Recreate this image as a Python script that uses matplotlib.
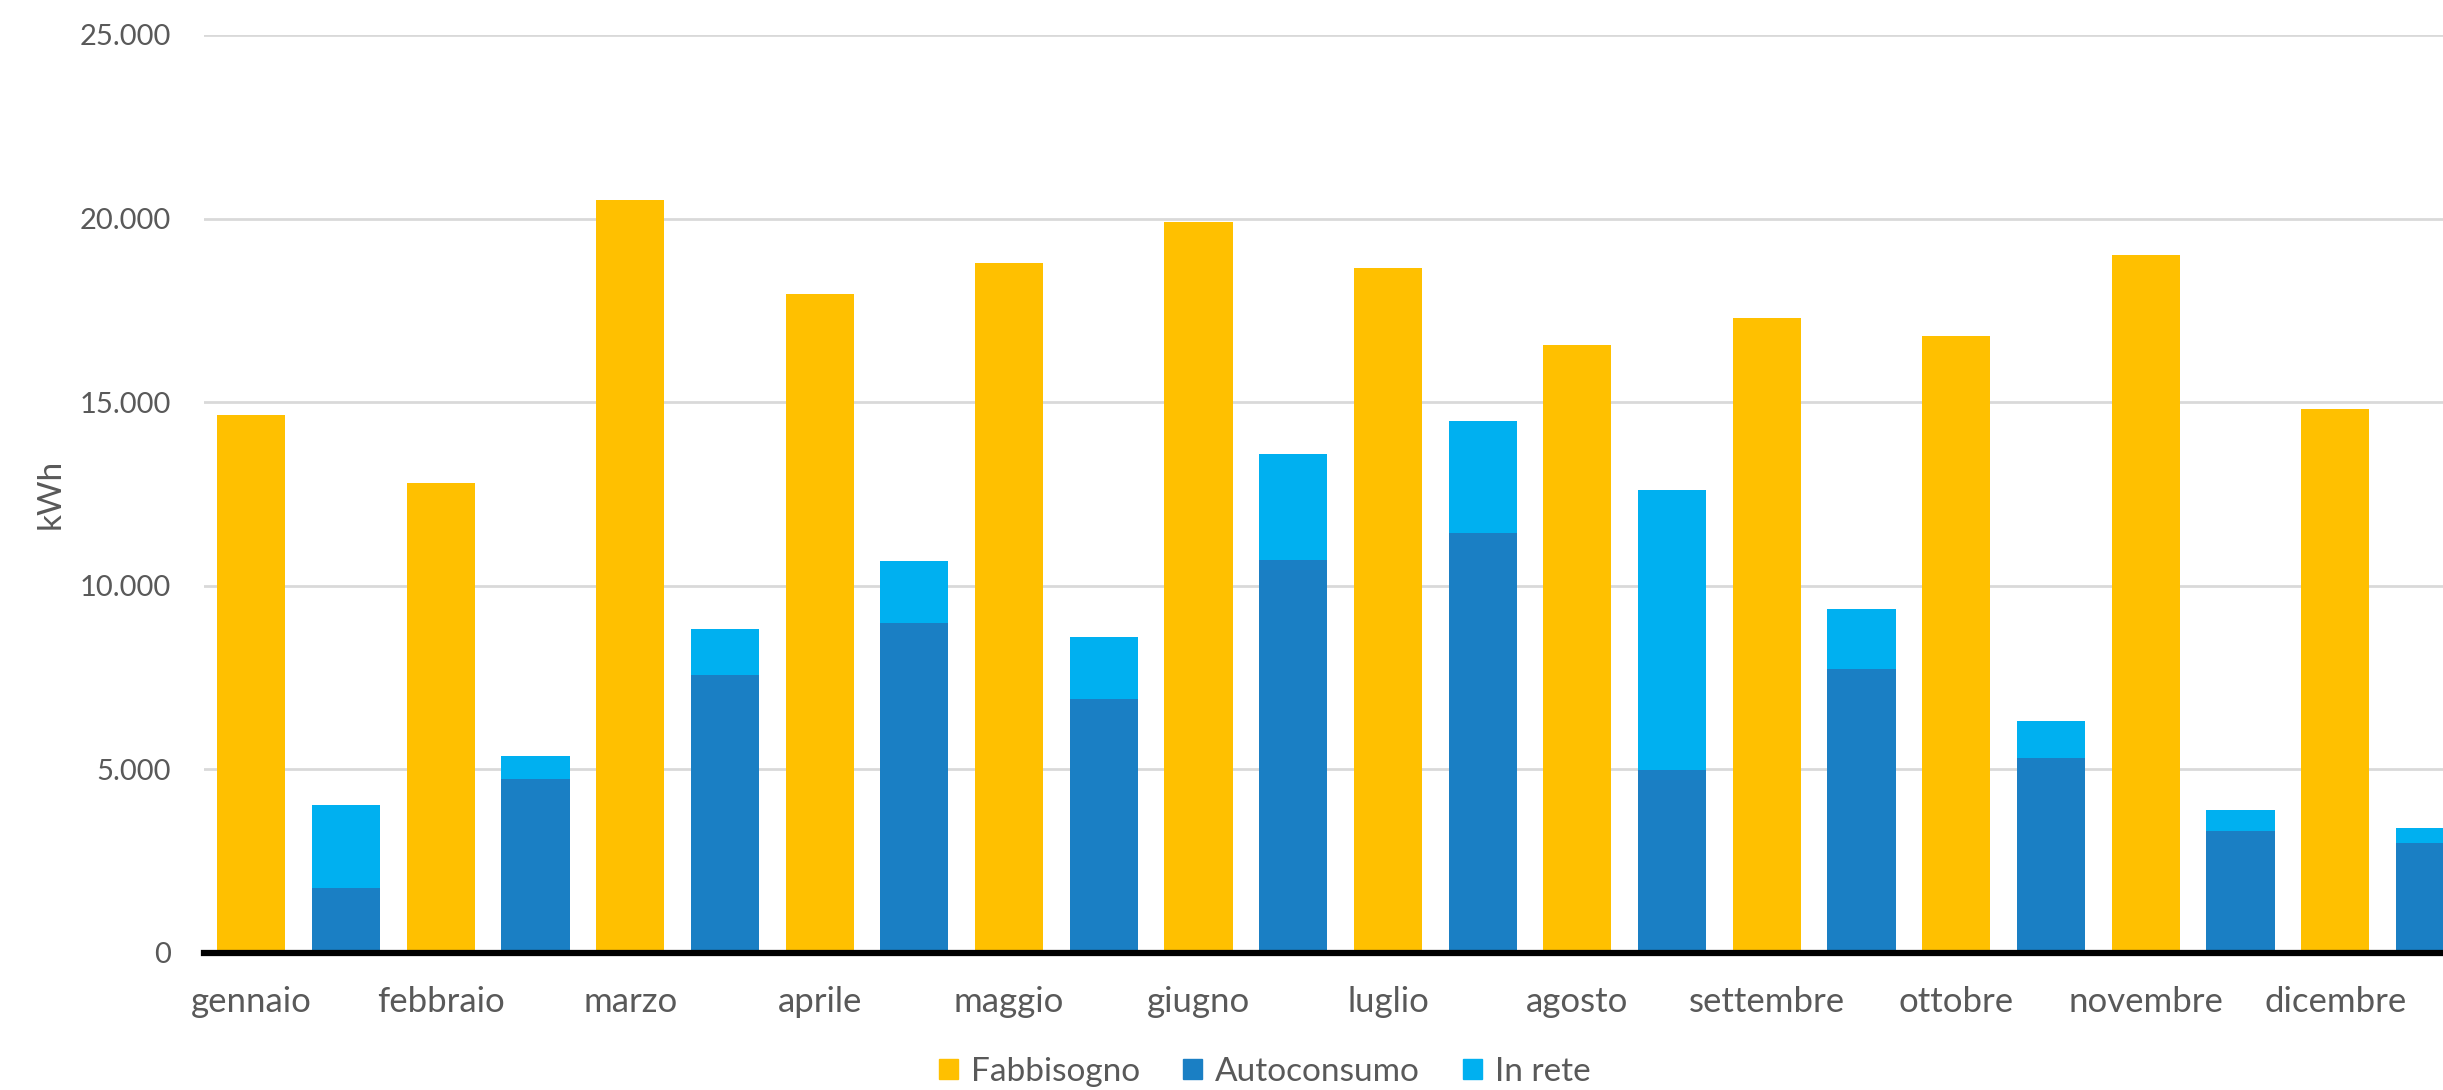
import numpy as np
import matplotlib.pyplot as plt
from matplotlib.ticker import FuncFormatter
from matplotlib.patches import Patch

mesi = ["gennaio", "febbraio", "marzo", "aprile", "maggio", "giugno",
        "luglio", "agosto", "settembre", "ottobre", "novembre", "dicembre"]
fabbisogno = [14650, 12800, 20500, 17950, 18800, 19900,
              18650, 16550, 17280, 16800, 19000, 14800]
autoconsumo = [1780, 4750, 7580, 8980, 6920, 10700,
               11440, 4980, 7720, 5310, 3330, 2990]
in_rete = [2240, 620, 1240, 1700, 1680, 2880,
           3040, 7620, 1660, 1000, 560, 410]

col_fab = "#FFC000"
col_auto = "#1A7FC4"
col_rete = "#00B0F0"
grigio = "#595959"

plt.rcParams['font.family'] = ['Lato', 'DejaVu Sans']

fig = plt.figure(figsize=(24.43, 10.9), dpi=100)
ax = fig.add_axes([0.0835, 0.1257, 0.9305, 0.8423])

n = len(mesi)
x_fab = np.arange(n) * 2
x_blu = x_fab + 1
w = 0.72

ax.bar(x_fab, fabbisogno, w, color=col_fab, zorder=3)
ax.bar(x_blu, autoconsumo, w, color=col_auto, zorder=3)
ax.bar(x_blu, in_rete, w, bottom=autoconsumo, color=col_rete, zorder=3)

ax.set_xlim(-0.5, 2 * n - 0.5)
ax.set_ylim(0, 25000)
ax.set_yticks(range(0, 25001, 5000))
ax.yaxis.set_major_formatter(FuncFormatter(lambda v, p: f"{int(v):,}".replace(",", ".")))
ax.set_xticks(x_fab)
ax.set_xticklabels(mesi)
ax.tick_params(axis='both', length=0, colors=grigio)
ax.tick_params(axis='x', pad=24, labelsize=25)
ax.tick_params(axis='y', pad=24, labelsize=21)

ax.grid(axis='y', color="#D9D9D9", linewidth=2, zorder=0)
for s in ['top', 'right', 'left']:
    ax.spines[s].set_visible(False)
ax.spines['bottom'].set_color('black')
ax.spines['bottom'].set_linewidth(4.5)
ax.spines['bottom'].set_zorder(4)

ax.set_ylabel("kWh", fontsize=24, color=grigio, labelpad=10)

handles = [Patch(color=col_fab, label="Fabbisogno"),
           Patch(color=col_auto, label="Autoconsumo"),
           Patch(color=col_rete, label="In rete")]
fig.legend(handles=handles, loc='center', bbox_to_anchor=(1265 / 2443, 1 - 1072 / 1090),
           ncol=3, frameon=False, fontsize=24, labelcolor=grigio,
           handlelength=0.55, handleheight=0.55, handletextpad=0.4, columnspacing=1.3)

fig.savefig("out.png", dpi=100)
